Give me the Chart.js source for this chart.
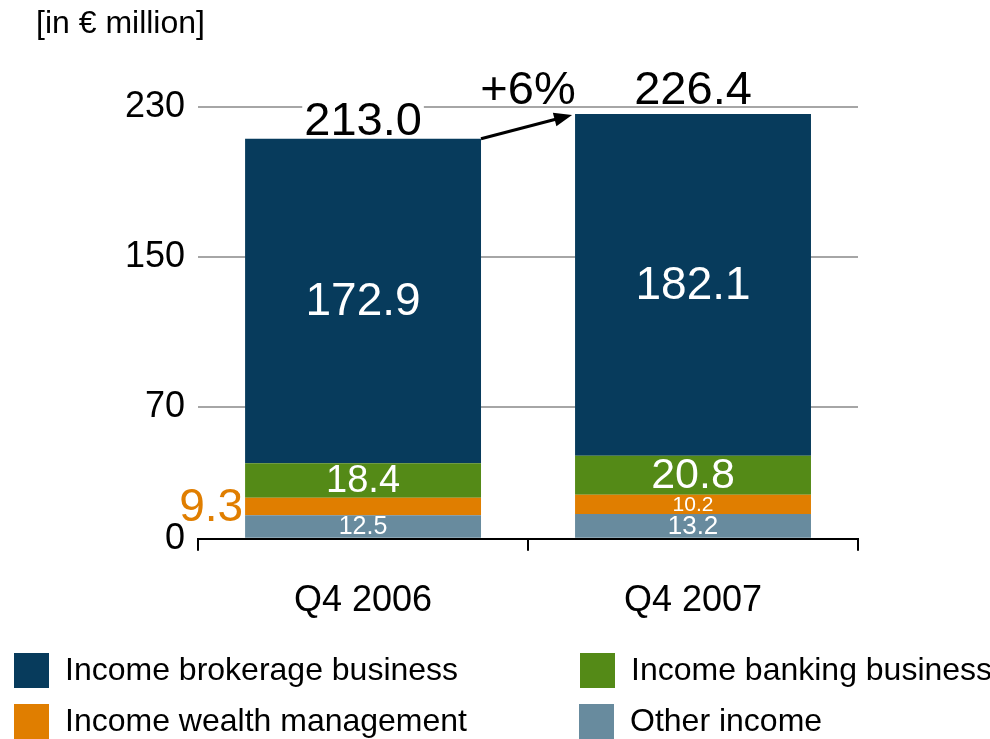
<!DOCTYPE html>
<html>
<head>
<meta charset="utf-8">
<script src="https://cdn.jsdelivr.net/npm/chart.js@4.4.0/dist/chart.umd.min.js"></script>
<style>
  body { margin: 0; background: #fff; }
  #wrap { width: 990px; height: 739px; }
</style>
</head>
<body>
<div id="wrap"><canvas id="incomeChart" width="990" height="739"></canvas></div>
<script>
const categories = ["Q4 2006", "Q4 2007"];
const otherIncome = [12.5, 13.2];
const wealthIncome = [9.3, 10.2];
const bankingIncome = [18.4, 20.8];
const brokerageIncome = [172.9, 182.1];
const totals = [213.0, 226.4];
const yTicks = [0, 70, 150, 230];
const growthText = "+6%";
const unitText = "[in \u20ac million]";

const FONT = "'Liberation Sans', Arial, sans-serif";
const colors = {
  brokerage: "#073b5c",
  banking: "#548a17",
  wealth: "#e07e00",
  other: "#688b9e",
};

// labels inside / beside the bars, totals and the growth arrow
let labelsPlugin = {
  id: "labels",
  afterDatasetsDraw(chart) {
    const ctx = chart.ctx;
    ctx.save();
    ctx.textBaseline = "middle";
    chart.data.datasets.forEach((ds, i) => {
      const meta = chart.getDatasetMeta(i);
      meta.data.forEach((bar, j) => {
        const v = ds.data[j];
        const h = Math.abs(bar.base - bar.y);
        const cy = (bar.y + bar.base) / 2;
        if (ds.key === "wealth" && j === 0) {
          // thin segment: label sits outside on the left
          ctx.font = `46px ${FONT}`;
          ctx.fillStyle = colors.wealth;
          ctx.textAlign = "right";
          ctx.fillText(v.toFixed(1), bar.x - bar.width / 2 - 2, cy + 2);
        } else {
          // shrink text in thin segments so labels don't run into each other
          const size = Math.round(Math.min(46, Math.max(20, h * 1.1)));
          ctx.font = `${size}px ${FONT}`;
          ctx.fillStyle = "#fff";
          ctx.textAlign = "center";
          ctx.fillText(v.toFixed(1), bar.x, cy + 1);
        }
      });
    });

    // totals on top
    const topMeta = chart.getDatasetMeta(chart.data.datasets.length - 1);
    ctx.font = `47px ${FONT}`;
    ctx.textAlign = "center";
    ctx.textBaseline = "alphabetic";
    const b1 = topMeta.data[0], b2 = topMeta.data[1];
    const t1 = totals[0].toFixed(1);
    const w1 = ctx.measureText(t1).width;
    ctx.fillStyle = "#fff";
    ctx.fillRect(b1.x - w1 / 2 - 2, b1.y - 40, w1 + 4, 36);
    ctx.fillStyle = "#000";
    ctx.fillText(t1, b1.x, b1.y - 4);
    ctx.fillText(totals[1].toFixed(1), b2.x, b2.y - 10);
    const gapMid = (b1.x + b1.width / 2 + b2.x - b2.width / 2) / 2;
    ctx.fillText(growthText, gapMid, b2.y - 10);

    // arrow
    const x1 = b1.x + b1.width / 2, y1 = b1.y;
    const x2 = b2.x - b2.width / 2 - 3, y2 = b2.y + 1;
    const ang = Math.atan2(y2 - y1, x2 - x1);
    ctx.strokeStyle = "#000";
    ctx.lineWidth = 3;
    ctx.beginPath();
    ctx.moveTo(x1, y1);
    ctx.lineTo(x2 - 12 * Math.cos(ang), y2 - 12 * Math.sin(ang));
    ctx.stroke();
    ctx.beginPath();
    ctx.moveTo(x2, y2);
    ctx.lineTo(x2 - 18 * Math.cos(ang) + 7 * Math.sin(ang), y2 - 18 * Math.sin(ang) - 7 * Math.cos(ang));
    ctx.lineTo(x2 - 18 * Math.cos(ang) - 7 * Math.sin(ang), y2 - 18 * Math.sin(ang) + 7 * Math.cos(ang));
    ctx.closePath();
    ctx.fillStyle = "#000";
    ctx.fill();
    ctx.restore();
  },
  afterDraw(chart) {
    const ctx = chart.ctx;
    ctx.save();
    // unit text
    ctx.fillStyle = "#000";
    ctx.font = `32px ${FONT}`;
    ctx.textAlign = "left";
    ctx.textBaseline = "middle";
    ctx.fillText(unitText, 36, 24);

    // legend, two columns
    const byKey = {};
    chart.data.datasets.forEach((ds) => (byKey[ds.key] = ds));
    const items = [
      { ds: byKey.brokerage, x: 14, y: 653 },
      { ds: byKey.wealth, x: 14, y: 704 },
      { ds: byKey.banking, x: 580, y: 653 },
      { ds: byKey.other, x: 579, y: 704 },
    ];
    items.forEach((it) => {
      ctx.fillStyle = it.ds.backgroundColor;
      ctx.fillRect(it.x, it.y, 35, 35);
      ctx.fillStyle = "#000";
      ctx.fillText(it.ds.label, it.x + 51, it.y + 18);
    });
    ctx.restore();
  },
};

new Chart(document.getElementById("incomeChart"), {
  type: "bar",
  data: {
    labels: categories,
    datasets: [
      { key: "other", label: "Other income", data: otherIncome, backgroundColor: colors.other },
      { key: "wealth", label: "Income wealth management", data: wealthIncome, backgroundColor: colors.wealth },
      { key: "banking", label: "Income banking business", data: bankingIncome, backgroundColor: colors.banking },
      { key: "brokerage", label: "Income brokerage business", data: brokerageIncome, backgroundColor: colors.brokerage },
    ],
  },
  options: {
    responsive: false,
    animation: false,
    layout: { padding: { top: 107, left: 112, right: 132, bottom: 87 } },
    datasets: { bar: { categoryPercentage: 1, barPercentage: 0.715, borderWidth: 0 } },
    plugins: { legend: { display: false }, tooltip: { enabled: false } },
    scales: {
      x: {
        stacked: true,
        grid: { display: true, drawOnChartArea: false, drawTicks: true, tickLength: 12, color: "#000", lineWidth: 2, offset: true },
        border: { display: true, color: "#000", width: 2 },
        ticks: { color: "#000", font: { family: FONT, size: 36 }, padding: 29 },
      },
      y: {
        stacked: true,
        min: 0,
        max: 230,
        afterBuildTicks: (axis) => {
          axis.ticks = yTicks.map((v) => ({ value: v }));
        },
        grid: {
          drawTicks: false,
          lineWidth: 2,
          color: (c) => (c.tick && c.tick.value === 0 ? "rgba(0,0,0,0)" : "#a6a6a6"),
        },
        border: { display: false },
        ticks: { color: "#000", font: { family: FONT, size: 36 }, padding: 13 },
      },
    },
  },
  plugins: [labelsPlugin],
});
</script>
</body>
</html>
